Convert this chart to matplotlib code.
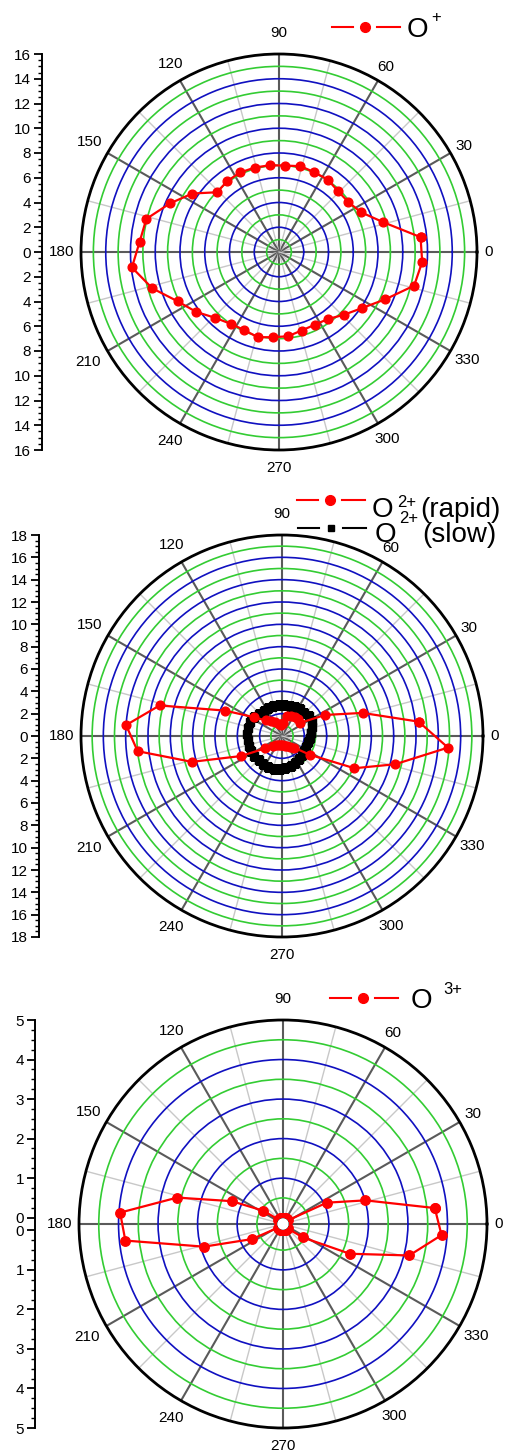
import numpy as np
import matplotlib
matplotlib.use("Agg")
import matplotlib.pyplot as plt
from matplotlib.ticker import FixedLocator, FuncFormatter

plt.rcParams['font.family'] = ['Liberation Sans', 'DejaVu Sans']

W, H = 508, 1453
DPI = 100

# emission angles (deg), same set for every ion species
angles = [6, 16, 26, 36, 46, 56, 66, 76, 86, 96, 106, 116, 126, 136, 146, 156, 166, 176,
          186, 196, 206, 216, 226, 236, 246, 256, 266, 276, 286, 296, 306, 316, 326, 336, 346, 356]

o1_yield = [11.5, 8.75, 7.35, 6.9, 6.85, 7.05, 7.05, 7.15, 7.0, 7.05, 7.1, 7.15, 7.1, 6.95,
            8.45, 9.65, 11.05, 11.3, 11.95, 10.65, 9.1, 8.25, 7.4, 7.0, 6.9, 7.1, 6.9, 6.85,
            6.6, 6.55, 6.7, 7.3, 8.1, 9.4, 11.25, 11.6]

o2_rapid = [12.3, 7.5, 4.3, 2.0, 2.1, 2.1, 2.0, 1.8, 1.2, 1.0, 1.1, 1.4, 1.7, 2.0,
            3.0, 5.6, 11.3, 14.0, 13.0, 8.4, 4.1, 1.9, 1.2, 1.0, 0.9, 0.8, 0.8, 0.8,
            0.9, 1.0, 1.2, 1.5, 3.0, 7.1, 10.45, 14.9]

o2_slow = [2.6, 2.8, 3.0, 3.0, 2.9, 2.9, 2.8, 2.8, 2.8, 2.8, 2.8, 2.8, 2.8, 2.9,
           3.0, 3.1, 3.1, 3.1, 3.1, 3.1, 3.1, 3.1, 3.0, 3.0, 3.0, 3.0, 3.0, 2.9,
           2.8, 2.7, 2.6, 2.5, 2.4, 2.4, 2.4, 2.5]

o3_yield = [3.70, 2.01, 1.07, 0, 0, 0, 0, 0, 0, 0, 0, 0, 0, 0,
            0.44, 1.26, 2.60, 3.97, 3.85, 1.92, 0.71, 0, 0, 0, 0, 0, 0, 0,
            0, 0, 0, 0, 0.45, 1.69, 3.13, 3.86]

angle_ticks = [0, 30, 60, 90, 120, 150, 180, 210, 240, 270, 300, 330]
label_gap = [12, 15, 16, 21, 19, 21, 19, 22, 20, 18, 18, 19]

RED = '#ff0000'
BLUE = '#1010c0'
GREEN = '#33cc33'
TICK_FS = 11
MS = 6.3

fig = plt.figure(figsize=(W / DPI, H / DPI), dpi=DPI)


def box(cx, cy, R):
    return [(cx - R) / W, (H - cy - R) / H, 2 * R / W, 2 * R / H]


def polar_panel(cx, cy, R, rmax, rorigin, rings, blue_rings):
    ax = fig.add_axes(box(cx, cy, R), projection='polar')
    ax.set_ylim(0, rmax)
    ax.set_rorigin(rorigin)

    ax.set_rgrids(rings, labels=[''] * len(rings))
    for r, gl in zip(rings, ax.yaxis.get_gridlines()):
        gl.set_color(BLUE if r in blue_rings else GREEN)
        gl.set_linewidth(1.2)
        gl.set_linestyle('-')

    ax.set_thetagrids(range(0, 360, 15), labels=[''] * 24)
    for i, gl in enumerate(ax.xaxis.get_gridlines()):
        gl.set_linestyle('-')
        if i % 2 == 0:
            gl.set_color('#5a5a5a')
            gl.set_linewidth(1.5)
        else:
            gl.set_color('#c8c8c8')
            gl.set_linewidth(1.0)
    ax.tick_params(axis='x', direction='in', length=8, width=1.3, color='#333333')
    ax.tick_params(axis='y', length=0)
    ax.spines['polar'].set_linewidth(2)
    ax.spines['polar'].set_color('black')

    for a, g in zip(angle_ticks, label_gap):
        t = np.deg2rad(a)
        ax.annotate(str(a), xy=(t, rmax), xytext=(g * np.cos(t), g * np.sin(t)),
                    textcoords='offset pixels', ha='center', va='center',
                    fontsize=TICK_FS, annotation_clip=False)
    return ax


def radial_scale(x, cy, R, rmax, rorigin, major, minor):
    span = rmax - rorigin
    sc = fig.add_axes([x / W, (H - cy - R) / H, 1 / W, 2 * R / H])
    sc.set_ylim(-span, span)
    sc.patch.set_visible(False)
    for s in ['top', 'right', 'bottom']:
        sc.spines[s].set_visible(False)
    sc.spines['left'].set_linewidth(1.4)
    sc.set_xticks([])

    def mirror(vals):
        pos = {v - rorigin for v in vals} | {-(v - rorigin) for v in vals}
        return sorted(pos)

    sc.yaxis.set_major_locator(FixedLocator(mirror(major)))
    sc.yaxis.set_minor_locator(FixedLocator(mirror(minor)))
    sc.yaxis.set_major_formatter(FuncFormatter(lambda y, _: f'{round(abs(y) + rorigin):d}'))
    sc.tick_params(axis='y', which='major', direction='out', length=6, width=1.3,
                   labelsize=TICK_FS, pad=2)
    sc.tick_params(axis='y', which='minor', direction='out', length=3, width=1.0)
    return sc


def closed(vals):
    return list(vals) + [vals[0]]


th = np.deg2rad(closed(angles))

# O+ panel
ax1 = polar_panel(279, 252, 198, 16, 0, list(range(1, 16)), set(range(2, 16, 2)))
radial_scale(42, 252, 198, 16, 0, list(range(0, 17, 2)), [v / 2 for v in range(0, 33)])
ax1.plot(th, closed(o1_yield), '-o', color=RED, lw=1.6, ms=MS, mec=RED, zorder=5)

# O2+ panel, slow and rapid components
ax2 = polar_panel(282, 736, 201, 18, 0, list(range(1, 18)), set(range(2, 18, 2)))
radial_scale(39, 736, 201, 18, 0, list(range(0, 19, 2)), [v / 2 for v in range(0, 37)])
ax2.plot(th, closed(o2_slow), '-s', color='black', lw=4, ms=5.5, zorder=4)
ax2.plot(th, closed(o2_rapid), '-o', color=RED, lw=1.6, ms=MS, mec=RED, zorder=5)

# O3+ panel, radial axis offset from the centre
o3_rings = [0.5, 1, 1.5, 2, 2.5, 3, 3.5, 4, 4.5]
ax3 = polar_panel(283, 1224, 204, 5, -0.16, o3_rings, {1, 2, 3, 4})
radial_scale(35, 1224, 204, 5, -0.16, [0, 1, 2, 3, 4, 5], [v / 4 for v in range(0, 21)])
ax3.plot(th, closed(o3_yield), '-o', color=RED, lw=1.6, ms=MS + 0.5, mec=RED, zorder=5)

# legends drawn in pixel space on top of everything
lg = fig.add_axes([0, 0, 1, 1])
lg.set_xlim(0, W)
lg.set_ylim(H, 0)
lg.axis('off')


def legend_key(x0, y, color, marker, ms):
    lg.plot([x0, x0 + 21], [y, y], color=color, lw=1.5)
    lg.plot([x0 + 45, x0 + 68], [y, y], color=color, lw=1.5)
    lg.plot([x0 + 33], [y], marker=marker, color=color, ms=ms, mec=color)


def ion_label(x, y, charge, sup_x, sup_y, tail=''):
    lg.text(x, y, 'O', fontsize=20, va='baseline')
    lg.text(sup_x, sup_y, charge, fontsize=12, va='baseline')
    if tail:
        lg.text(sup_x + 23, y, tail, fontsize=20, va='baseline')


legend_key(332, 27, RED, 'o', 7)
ion_label(407, 37, '+', 431, 22)

legend_key(297, 500, RED, 'o', 7)
ion_label(372, 517, '2+', 397, 507, '(rapid)')
legend_key(298, 528, 'black', 's', 4)
ion_label(375, 542, '2+', 399, 523, '(slow)')

legend_key(330, 998, RED, 'o', 7)
ion_label(411, 1008, '3+', 443, 994)

fig.savefig('out.png', dpi=DPI, facecolor='white')
